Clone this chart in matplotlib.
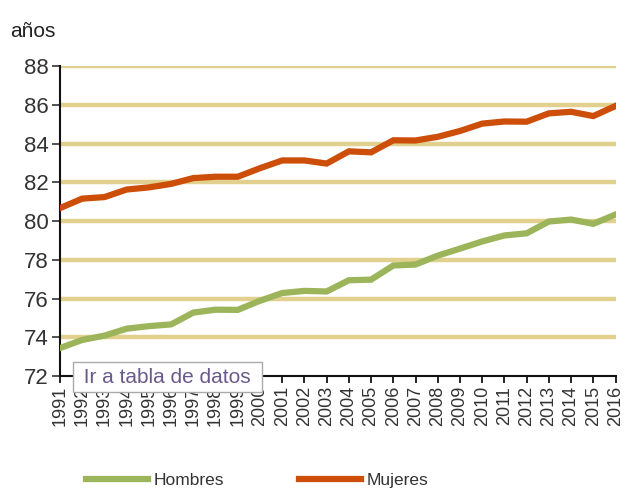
import matplotlib.pyplot as plt

# Esperanza de vida al nacer (años)
years = list(range(1991, 2017))
hombres = [73.45, 73.87, 74.09, 74.45, 74.58, 74.67, 75.28, 75.43, 75.42, 75.89,
           76.29, 76.40, 76.37, 76.95, 76.98, 77.71, 77.76, 78.22, 78.58, 78.95,
           79.26, 79.37, 79.98, 80.08, 79.86, 80.34]
mujeres = [80.67, 81.16, 81.24, 81.63, 81.74, 81.92, 82.22, 82.29, 82.29, 82.73,
           83.13, 83.13, 82.97, 83.60, 83.55, 84.17, 84.16, 84.35, 84.65, 85.03,
           85.14, 85.13, 85.56, 85.64, 85.42, 85.94]
y_ticks = [72, 74, 76, 78, 80, 82, 84, 86, 88]

plt.rcParams['font.family'] = ['Liberation Sans', 'DejaVu Sans']

fig = plt.figure(figsize=(6.27, 4.93), dpi=100)
ax = fig.add_axes([0.0957, 0.237, 0.886, 0.629])

# grid lines (thick, tan)
for v in y_ticks[1:]:
    ax.axhline(v, color='#E2D08E', lw=3.2, zorder=1)

ax.plot(years, hombres, color='#9CB45A', lw=4.5, solid_joinstyle='miter', zorder=3, label='Hombres')
ax.plot(years, mujeres, color='#CC4E08', lw=4.5, solid_joinstyle='miter', zorder=3, label='Mujeres')

ax.set_xlim(1991, 2016)
ax.set_ylim(72, 88)
ax.set_yticks(y_ticks)
ax.set_xticks(years)
ax.set_xticklabels([str(y) for y in years], rotation=90, fontsize=13, color='#333333')
ax.tick_params(axis='y', labelsize=16, colors='#333333', length=6, width=1.2, pad=2)
ax.tick_params(axis='x', length=5, width=1.2, pad=2)
for s in ['top', 'right']:
    ax.spines[s].set_visible(False)
for s in ['left', 'bottom']:
    ax.spines[s].set_linewidth(1.5)
    ax.spines[s].set_color('#111111')

fig.text(0.016, 0.925, 'años', fontsize=15, color='#222222')

# "Ir a tabla de datos" tooltip box
fig.text(0.125, 0.224, ' Ir a tabla de datos ', fontsize=15, color='#6A5A8C',
         bbox=dict(boxstyle='square,pad=0.25', fc='white', ec='#AAAAAA', lw=1), zorder=10)

leg = fig.legend(loc='lower center', bbox_to_anchor=(0.41, -0.022), ncol=2, frameon=False,
                 fontsize=12.5, handlelength=3.6, handletextpad=0.3, columnspacing=4.3)
for t in leg.get_texts():
    t.set_color('#333333')

fig.savefig('out.png', dpi=100)
